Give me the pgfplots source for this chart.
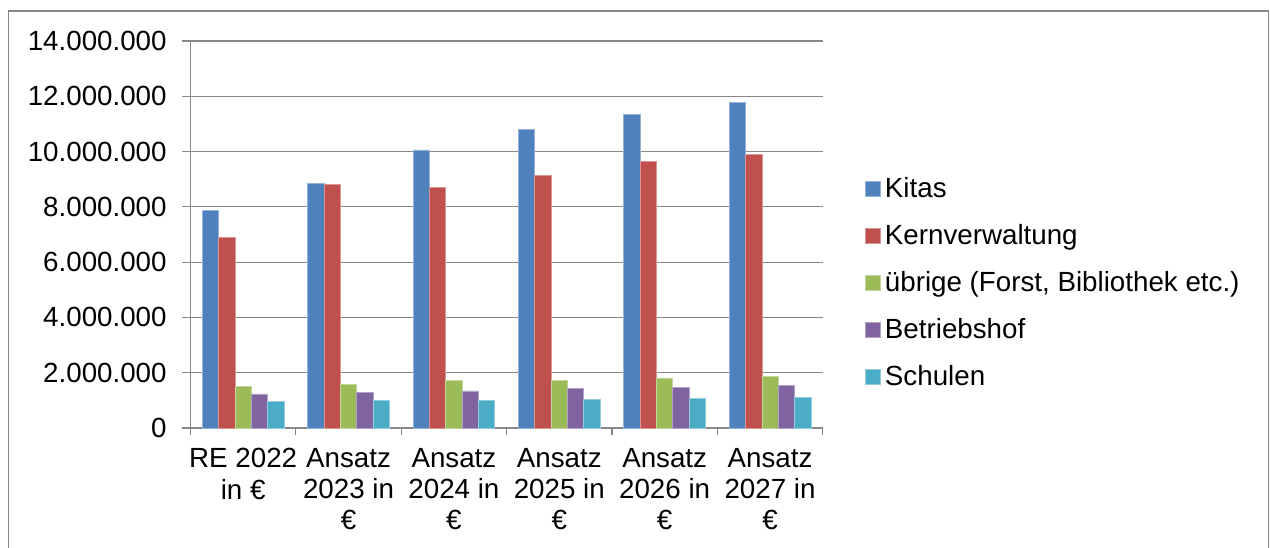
\documentclass[border=0pt]{standalone}
\usepackage{pgfplots}
\pgfplotsset{compat=1.18}
\usepackage{fontspec}
\setmainfont{Liberation Sans}
\definecolor{cKitas}{HTML}{4F81BD}
\definecolor{cKern}{HTML}{C0504D}
\definecolor{cUebr}{HTML}{9BBB59}
\definecolor{cBetr}{HTML}{8064A2}
\definecolor{cSchul}{HTML}{4BACC6}
\definecolor{gridgray}{HTML}{878787}
\begin{document}
\begin{tikzpicture}
\useasboundingbox (0,0) rectangle (952.5pt,410.25pt);
\draw[gridgray, line width=0.9pt] (6.375pt,-10pt) -- (6.375pt,402pt) -- (951.4pt,402pt) -- (951.4pt,-10pt);
\begin{axis}[
  at={(142.875pt,89.25pt)}, anchor=south west,
  scale only axis, width=474.15pt, height=290.3pt,
  font=\fontsize{20.8}{23.4}\selectfont,
  xmin=-0.5, xmax=5.5, ymin=0, ymax=14000000,
  ybar=0pt, bar width=0.155,
  axis lines*=left,
  axis line style={gridgray, line width=0.9pt},
  ymajorgrids, grid style={gridgray, line width=0.9pt},
  tick align=outside, major tick length=6pt,
  tick style={gridgray, line width=0.9pt},
  major x tick style={draw=none},
  minor tick length=5pt,
  minor xtick={-0.5,0.5,...,5.5},
  xtick={0,1,2,3,4,5},
  xticklabels={{RE 2022\\in €},{Ansatz\\2023 in\\€},{Ansatz\\2024 in\\€},{Ansatz\\2025 in\\€},{Ansatz\\2026 in\\€},{Ansatz\\2027 in\\€}},
  xticklabel style={align=center, yshift=-5.8pt},
  scaled y ticks=false,
  ytick={0,2000000,4000000,6000000,8000000,10000000,12000000,14000000},
  yticklabels={0,2.000.000,4.000.000,6.000.000,8.000.000,10.000.000,12.000.000,14.000.000},
  yticklabel style={xshift=-8.4pt},
  legend style={at={(1.067,0.370)}, anchor=west, draw=none, inner sep=0pt,
    nodes={inner sep=0pt, text height=14pt, text depth=4pt, anchor=base west},
    row sep=17.25pt, column sep=3pt, font=\fontsize{20.8}{23.4}\selectfont},
  legend cell align=left,
  legend image code/.code={\fill[#1] (0pt,0.5pt) rectangle (11.25pt,11.75pt);},
  every axis plot/.append style={line width=0.5pt},
]
\addplot[fill=cKitas, draw=cKitas!60!white] coordinates {(0,7880000) (1,8860000) (2,10060000) (3,10810000) (4,11330000) (5,11780000)};
\addplot[fill=cKern, draw=cKern!60!white] coordinates {(0,6890000) (1,8810000) (2,8700000) (3,9130000) (4,9650000) (5,9890000)};
\addplot[fill=cUebr, draw=cUebr!60!white] coordinates {(0,1510000) (1,1570000) (2,1730000) (3,1730000) (4,1810000) (5,1880000)};
\addplot[fill=cBetr, draw=cBetr!60!white] coordinates {(0,1230000) (1,1280000) (2,1340000) (3,1430000) (4,1480000) (5,1540000)};
\addplot[fill=cSchul, draw=cSchul!60!white] coordinates {(0,960000) (1,1010000) (2,1000000) (3,1040000) (4,1070000) (5,1120000)};
\legend{Kitas,Kernverwaltung,{übrige (Forst, Bibliothek etc.)},Betriebshof,Schulen}
\end{axis}
\end{tikzpicture}
\end{document}
